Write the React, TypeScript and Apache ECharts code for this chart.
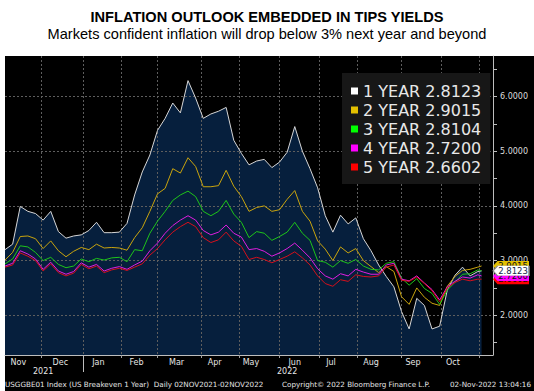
import React, { useEffect, useRef } from "react";
import * as echarts from "echarts";

// ---- chart text ----
const TITLE = "INFLATION OUTLOOK EMBEDDED IN TIPS YIELDS";
const SUBTITLE = "Markets confident inflation will drop below 3% next year and beyond";
const FOOTER_LEFT = "USGGBE01 Index (US Breakeven 1 Year)  Daily 02NOV2021-02NOV2022";
const FOOTER_MID = "Copyright\u00A9 2022 Bloomberg Finance L.P.";
const FOOTER_RIGHT = "02-Nov-2022 13:04:16";

// ---- axis definitions ----
const AXIS_START = "2021-11-02";
const AXIS_END = "2022-11-10";
const DATA_END = "2022-11-02";
const HOLIDAYS = [
  "2021-11-11", "2021-11-25", "2021-12-24", "2022-01-17", "2022-02-21", "2022-04-15",
  "2022-05-30", "2022-06-20", "2022-07-04", "2022-09-05", "2022-10-10",
];
const MONTH_LABEL_DAYS = [
  "2021-11-12", "2021-12-15", "2022-01-13", "2022-02-11", "2022-03-15", "2022-04-12",
  "2022-05-10", "2022-06-13", "2022-07-12", "2022-08-10", "2022-09-12", "2022-10-12",
];
const MONTH_NAMES = ["Jan", "Feb", "Mar", "Apr", "May", "Jun", "Jul", "Aug", "Sep", "Oct", "Nov", "Dec"];
const YEAR_LABEL_DAYS = ["2021-12-02", "2022-06-07"];
const YEAR_BREAK_DAY = "2022-01-03";
const Y_LABELS = [2, 3, 4, 5, 6];
const Y_TICKS = [1.5, 2, 2.5, 3, 3.5, 4, 4.5, 5, 5.5, 6, 6.5];
const Y_MIN = 1.274;
const Y_MAX = 6.74;
const SAMPLE_STEP = 4; // one reading every 4 trading days

// ---- series values ----
const SERIES_NAMES = ["1 YEAR", "2 YEAR", "3 YEAR", "4 YEAR", "5 YEAR"];
const ONE_YEAR = [
  3.2, 3.3, 3.99, 3.9, 3.86, 3.74, 3.9, 3.53, 3.41, 3.45,
  3.47, 3.55, 3.7, 3.51, 3.51, 3.52, 3.68, 4.2, 4.62, 4.93,
  5.38, 5.6, 5.88, 5.7, 6.29, 5.97, 5.6, 5.68, 5.73, 5.8,
  5.2, 4.96, 4.75, 4.82, 4.85, 4.7, 4.8, 4.98, 5.45, 5.0,
  4.68, 4.33, 3.82, 3.52, 3.83, 3.67, 3.78, 3.4, 3.18, 2.92,
  2.71, 2.52, 2.07, 1.75, 2.31, 2.18, 1.75, 1.8, 2.46, 2.73,
  2.88, 2.72, 2.8, 2.8123,
];
const TWO_YEAR = [
  3.01, 3.15, 3.44, 3.45, 3.4, 3.22, 3.36, 3.18, 3.07, 3.17,
  3.24, 3.2, 3.3, 3.23, 3.24, 3.23, 3.19, 3.42, 3.6, 3.9,
  4.22, 4.32, 4.68, 4.6, 4.88, 4.72, 4.35, 4.35, 4.37, 4.65,
  4.36, 4.17, 3.9, 3.97, 4.0, 3.9, 3.93, 4.12, 4.28, 3.9,
  3.72, 3.36, 3.21, 3.0, 3.25, 3.14, 3.22, 3.0, 2.89, 2.78,
  2.89, 2.8, 2.34, 2.2, 2.5, 2.33, 2.22, 2.18, 2.53, 2.71,
  2.82, 2.84, 2.88, 2.9015,
];
const THREE_YEAR = [
  2.94, 3.03, 3.27, 3.25, 3.15, 3.0, 3.06, 2.93, 2.87, 2.9,
  3.03, 2.98, 3.04, 3.01, 3.05, 3.06, 2.98, 3.2, 3.18, 3.5,
  3.72, 3.9, 4.1, 4.2, 4.27, 4.17, 3.9, 3.82, 3.9, 4.1,
  3.85, 3.7, 3.42, 3.53, 3.5, 3.37, 3.44, 3.52, 3.7, 3.5,
  3.37, 3.0, 2.97, 2.88, 3.0, 2.95, 3.02, 2.9, 2.84, 2.83,
  2.95, 2.98, 2.68, 2.55, 2.67, 2.49, 2.4, 2.2, 2.46, 2.6,
  2.75, 2.76, 2.83, 2.8104,
];
const FOUR_YEAR = [
  2.9, 2.95, 3.18, 3.12, 3.03, 2.84, 2.97, 2.81, 2.75, 2.8,
  2.96, 2.88, 2.93, 2.81, 2.86, 2.89, 2.84, 2.92, 2.99, 3.18,
  3.32, 3.5, 3.64, 3.74, 3.82, 3.74, 3.55, 3.47, 3.52, 3.65,
  3.5, 3.43, 3.2, 3.22, 3.17, 3.08, 3.14, 3.22, 3.32, 3.19,
  3.05, 2.85, 2.72, 2.66, 2.76, 2.72, 2.84, 2.79, 2.75, 2.75,
  2.92, 2.95, 2.66, 2.63, 2.72, 2.59, 2.47, 2.28, 2.52, 2.62,
  2.7, 2.68, 2.74, 2.72,
];
const FIVE_YEAR = [
  2.88, 2.92, 3.14, 3.08, 3.0, 2.81, 2.94, 2.78, 2.72, 2.77,
  2.93, 2.85, 2.9, 2.78, 2.83, 2.86, 2.82, 2.88, 2.94, 3.1,
  3.22, 3.38, 3.52, 3.62, 3.7, 3.62, 3.42, 3.33, 3.38, 3.52,
  3.36, 3.26, 3.02, 3.06, 3.02, 2.96, 3.02, 3.08, 3.16, 3.05,
  2.92, 2.72, 2.58, 2.53, 2.65, 2.62, 2.74, 2.71, 2.7, 2.72,
  2.88, 2.92, 2.64, 2.62, 2.7, 2.58, 2.45, 2.25, 2.5, 2.6,
  2.66, 2.63, 2.66, 2.6602,
];
const SERIES_VALUES = [ONE_YEAR, TWO_YEAR, THREE_YEAR, FOUR_YEAR, FIVE_YEAR];
const LINE_COLORS = ["#d6d6d6", "#c9a40e", "#1fc41a", "#e01ee0", "#d6101c"];
const KEY_COLORS = ["#ffffff", "#e3c000", "#00ff00", "#ff00ff", "#ff0000"];
const TAG_ORDER = [2, 4, 3, 1, 0];

function buildTradingDays(start: string, end: string, holidays: string[]): string[] {
  const out: string[] = [];
  const d = new Date(start + "T00:00:00Z");
  const e = new Date(end + "T00:00:00Z");
  while (d.getTime() <= e.getTime()) {
    const wd = d.getUTCDay();
    const s = d.toISOString().slice(0, 10);
    if (wd !== 0 && wd !== 6 && holidays.indexOf(s) < 0) out.push(s);
    d.setUTCDate(d.getUTCDate() + 1);
  }
  return out;
}

const AXIS_DAYS = buildTradingDays(AXIS_START, AXIS_END, HOLIDAYS);
const DATA_END_INDEX = AXIS_DAYS.indexOf(DATA_END);
const SAMPLE_DATES: string[] = [];
for (let i = 0; i < DATA_END_INDEX; i += SAMPLE_STEP) SAMPLE_DATES.push(AXIS_DAYS[i]);
SAMPLE_DATES.push(AXIS_DAYS[DATA_END_INDEX]);

function isMonthStart(i: number): boolean {
  return i > 0 && AXIS_DAYS[i].slice(0, 7) !== AXIS_DAYS[i - 1].slice(0, 7);
}

export default function App() {
  const ref = useRef<HTMLDivElement>(null);
  useEffect(() => {
    if (!ref.current) return;
    const chart = echarts.init(ref.current, undefined, { renderer: "svg" });
    const font = "DejaVu Sans";
    const pairs = (vals: number[]) => SAMPLE_DATES.map((d, i) => [d, vals[i]]);
    const lastDay = AXIS_DAYS[AXIS_DAYS.length - 1];

    const lineSeries = SERIES_NAMES.map((name, s) => ({
      name,
      type: "line",
      data: pairs(SERIES_VALUES[s]),
      showSymbol: false,
      symbol: "none",
      z: 3,
      itemStyle: { color: KEY_COLORS[s] },
      lineStyle: { color: LINE_COLORS[s], width: 1 },
    }));

    const areaSeries = {
      name: "area",
      type: "line",
      data: pairs(ONE_YEAR),
      showSymbol: false,
      symbol: "none",
      z: 1,
      lineStyle: { width: 0, opacity: 0 },
      areaStyle: { color: "#061f3d", opacity: 1 },
      markLine: {
        silent: true,
        symbol: ["none", "none"],
        z: 2,
        label: { show: false },
        lineStyle: { color: "#5e5e5e", type: [2, 2], width: 1 },
        data: Y_LABELS.map((v) => ({ yAxis: v })),
      },
    };

    const tagSeries = TAG_ORDER.map((s, k) => {
      const vals = SERIES_VALUES[s];
      const last = vals[vals.length - 1];
      return {
        name: "tag" + s,
        type: "scatter",
        clip: false,
        z: 4 + k,
        data: [[lastDay, last]],
        symbol: "path://M0 5L5 0H40V10H5Z",
        symbolSize: [36, 10],
        symbolOffset: [18, 0],
        itemStyle: {
          color: KEY_COLORS[s],
          borderColor: s === 0 ? "#8a8a8a" : KEY_COLORS[s],
          borderWidth: s === 0 ? 0.8 : 0,
          opacity: 1,
        },
        label: {
          show: true,
          position: "inside",
          offset: [2, 0],
          formatter: () => last.toFixed(4),
          fontSize: 8.5,
          fontFamily: font,
          color: s === 0 ? "#14284a" : "#111111",
        },
      };
    });

    const option = {
      animation: false,
      backgroundColor: "#ffffff",
      textStyle: { fontFamily: font },
      graphic: [
        {
          type: "rect",
          z: -10,
          silent: true,
          shape: { x: 5, y: 56, width: 529, height: 335 },
          style: { fill: "#000000" },
        },
        {
          type: "text",
          x: 267,
          y: 17,
          style: {
            text: TITLE,
            fontFamily: '"Liberation Sans", Arial, sans-serif',
            fontWeight: "bold",
            fontSize: 14.6,
            fill: "#000000",
            align: "center",
            verticalAlign: "middle",
          },
        },
        {
          type: "text",
          x: 267,
          y: 34,
          style: {
            text: SUBTITLE,
            fontFamily: '"Liberation Sans", Arial, sans-serif',
            fontSize: 14.6,
            fill: "#000000",
            align: "center",
            verticalAlign: "middle",
          },
        },
        {
          type: "text",
          x: 5,
          y: 384,
          style: { text: FOOTER_LEFT, fontFamily: font, fontSize: 7.2, fill: "#e6e6e6", align: "left", verticalAlign: "middle" },
        },
        {
          type: "text",
          x: 282,
          y: 384,
          style: { text: FOOTER_MID, fontFamily: font, fontSize: 7.2, fill: "#e6e6e6", align: "left", verticalAlign: "middle" },
        },
        {
          type: "text",
          x: 531,
          y: 384,
          style: { text: FOOTER_RIGHT, fontFamily: font, fontSize: 7.2, fill: "#e6e6e6", align: "right", verticalAlign: "middle" },
        },
      ],
      legend: {
        data: SERIES_NAMES,
        orient: "vertical",
        left: 342,
        top: 73,
        padding: [10, 9, 9, 9],
        itemGap: 3,
        itemWidth: 7,
        itemHeight: 7,
        icon: "rect",
        selectedMode: false,
        backgroundColor: "#171717",
        formatter: (name: string) => {
          const s = SERIES_NAMES.indexOf(name);
          const vals = SERIES_VALUES[s];
          return name + " " + vals[vals.length - 1].toFixed(4);
        },
        textStyle: { color: "#e8e8e8", fontSize: 16, lineHeight: 16, fontFamily: font },
      },
      grid: { left: 5, right: 41, top: 56, bottom: 36, containLabel: false },
      xAxis: [
        {
          type: "category",
          data: AXIS_DAYS,
          boundaryGap: false,
          z: 2,
          axisLine: { show: true, lineStyle: { color: "#bdbdbd", width: 1 } },
          axisTick: {
            show: true,
            length: 3,
            interval: (i: number) => isMonthStart(i),
            lineStyle: { color: "#a0a0a0" },
          },
          axisLabel: {
            show: true,
            interval: (_i: number, v: string) => MONTH_LABEL_DAYS.indexOf(v) >= 0,
            formatter: (v: string) => MONTH_NAMES[parseInt(v.slice(5, 7), 10) - 1],
            color: "#e6e6e6",
            fontSize: 8,
            fontFamily: font,
            margin: 3,
          },
          splitLine: {
            show: true,
            interval: (i: number) => isMonthStart(i),
            lineStyle: { color: "#5e5e5e", type: [2, 2], width: 1 },
          },
        },
        {
          type: "category",
          data: AXIS_DAYS,
          boundaryGap: false,
          position: "bottom",
          z: 2,
          axisLine: { show: false },
          axisTick: {
            show: true,
            length: 17,
            interval: (_i: number, v: string) => v === YEAR_BREAK_DAY,
            lineStyle: { color: "#bdbdbd" },
          },
          axisLabel: {
            show: true,
            interval: (_i: number, v: string) => YEAR_LABEL_DAYS.indexOf(v) >= 0,
            formatter: (v: string) => v.slice(0, 4),
            color: "#e6e6e6",
            fontSize: 8,
            fontFamily: font,
            margin: 12,
          },
          splitLine: { show: false },
        },
      ],
      yAxis: {
        type: "value",
        position: "right",
        min: Y_MIN,
        max: Y_MAX,
        z: 2,
        axisLine: { show: true, lineStyle: { color: "#bdbdbd", width: 1 } },
        axisTick: { show: true, length: 4, customValues: Y_TICKS, lineStyle: { color: "#bdbdbd" } },
        axisLabel: {
          show: true,
          customValues: Y_LABELS,
          formatter: (v: number) => v.toFixed(4),
          color: "#dcdcdc",
          fontSize: 8,
          fontFamily: font,
          margin: 7,
        },
        splitLine: { show: false },
      },
      series: [areaSeries, ...lineSeries, ...tagSeries],
    };
    chart.setOption(option as any);
    return () => chart.dispose();
  }, []);

  return (
    <div
      ref={ref}
      style={{ position: "absolute", left: 0, top: 0, width: 534, height: 391 }}
    />
  );
}
